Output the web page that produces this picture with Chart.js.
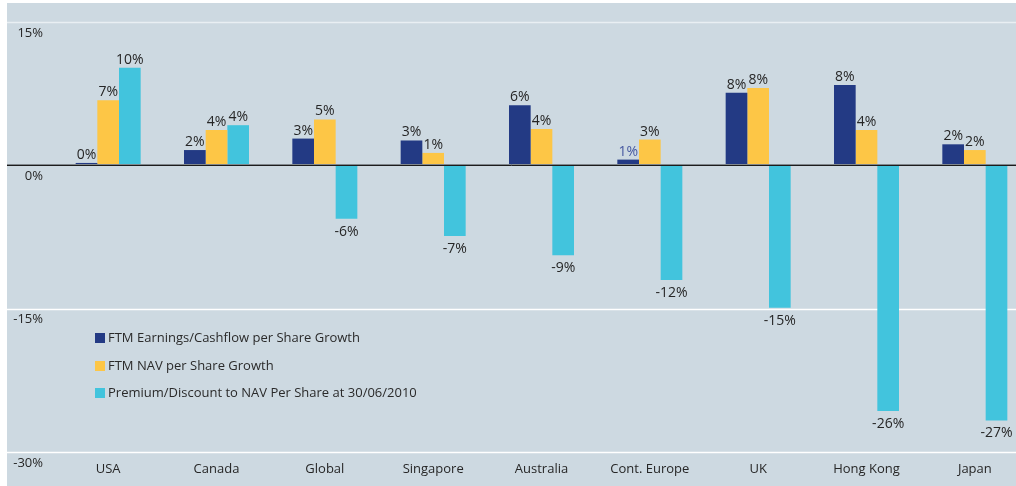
<!DOCTYPE html>
<html>
<head>
<meta charset="utf-8">
<script src="https://cdn.jsdelivr.net/npm/chart.js@4/dist/chart.umd.min.js"></script>
<style>
  html, body { margin:0; padding:0; background:#fff; overflow:hidden; width:1016px; height:486px; }
  #panel { position:absolute; left:7px; top:3px; width:1009px; height:483px; background:#cdd9e1; }
  #chart { position:absolute; left:0; top:0; }
  #legend { position:absolute; left:95px; top:327px; font:13px "Open Sans", sans-serif; color:#2a2a2a; }
  #legend div { height:27.7px; line-height:20px; white-space:nowrap; }
  #legend span { display:inline-block; width:10px; height:10px; margin-right:3px; vertical-align:-1px; }
</style>
</head>
<body>
<div id="panel"></div>
<canvas id="chart" width="1029" height="486"></canvas>
<div id="legend"></div>
<script>
const categories = ['USA', 'Canada', 'Global', 'Singapore', 'Australia', 'Cont. Europe', 'UK', 'Hong Kong', 'Japan'];
const earningsGrowth = [0.25, 1.6, 2.8, 2.6, 6.3, 0.6, 7.6, 8.4, 2.2];
const navGrowth = [6.8, 3.7, 4.8, 1.3, 3.8, 2.7, 8.1, 3.7, 1.6];
const premiumDiscount = [10.2, 4.2, -5.6, -7.4, -9.4, -12.0, -14.9, -25.7, -26.7];
const seriesNames = ['FTM Earnings/Cashflow per Share Growth', 'FTM NAV per Share Growth', 'Premium/Discount to NAV Per Share at 30/06/2010'];
const yMin = -30, yMax = 15, yStep = 15;

const FONT = '"Open Sans", sans-serif';

// full-width grid lines (they run under the tick labels, out to the panel edge)
const gridPlugin = {
    id: 'fullGrid',
    beforeDatasetsDraw(chart){
        const ctx = chart.ctx, y = chart.scales.y;
        ctx.save();
        y.ticks.forEach(t => {
            if (t.value === 0) return;
            const py = Math.round(y.getPixelForValue(t.value)) + 0.5;
            ctx.strokeStyle = t.value === yMax ? '#e9eff3' : '#ffffff';
            ctx.lineWidth = 1.6;
            ctx.beginPath(); ctx.moveTo(7, py); ctx.lineTo(1016, py); ctx.stroke();
        });
        ctx.restore();
    },
    afterDatasetsDraw(chart){
        const ctx = chart.ctx, y = chart.scales.y;
        const py = Math.round(y.getPixelForValue(0));
        ctx.save();
        ctx.lineWidth = 1;
        ctx.strokeStyle = '#80878c';
        ctx.beginPath(); ctx.moveTo(7, py - 0.5); ctx.lineTo(1016, py - 0.5); ctx.stroke();
        ctx.strokeStyle = '#1c1c1c';
        ctx.beginPath(); ctx.moveTo(7, py + 0.5); ctx.lineTo(1016, py + 0.5); ctx.stroke();
        ctx.restore();
    }
};

// value labels above / below each bar
const valueLabels = {
    id: 'valueLabels',
    afterDatasetsDraw(chart){
        const ctx = chart.ctx;
        ctx.save();
        ctx.font = '14px ' + FONT;
        ctx.textAlign = 'center';
        ctx.textBaseline = 'alphabetic';
        chart.data.datasets.forEach((ds, di) => {
            chart.getDatasetMeta(di).data.forEach((bar, i) => {
                const v = ds.data[i];
                const txt = Math.round(v) + '%';
                ctx.fillStyle = (ds.labelColors && ds.labelColors[i]) || '#262626';
                ctx.fillText(txt, bar.x, v >= 0 ? bar.y - 4 : bar.y + 17);
            });
        });
        ctx.restore();
    }
};

const chart = new Chart(document.getElementById('chart'), {
    type: 'bar',
    data: {
        labels: categories,
        datasets: [
            { label: seriesNames[0], data: earningsGrowth, backgroundColor: '#233a84',
              labelColors: [null, null, null, null, null, '#4658a0'] },
            { label: seriesNames[1], data: navGrowth, backgroundColor: '#fdc646' },
            { label: seriesNames[2], data: premiumDiscount, backgroundColor: '#42c4dd' }
        ]
    },
    options: {
        responsive: false,
        animation: false,
        layout: { padding: { top: 22, right: 0, left: 0, bottom: 0 } },
        datasets: { bar: { barPercentage: 1, categoryPercentage: 0.6 } },
        plugins: { legend: { display: false }, tooltip: { enabled: false } },
        scales: {
            x: {
                grid: { display: false, drawTicks: false },
                border: { display: false },
                ticks: { color: '#262626', font: { family: FONT, size: 13 }, padding: 9, maxRotation: 0 },
                afterFit(s){ s.height = 34; }
            },
            y: {
                min: yMin, max: yMax,
                grid: { display: false, drawTicks: false },
                border: { display: false },
                ticks: { stepSize: yStep, color: '#262626', font: { family: FONT, size: 13 }, padding: 11, labelOffset: 11,
                         callback: v => v + '%' },
                afterFit(s){ s.width = 54; }
            }
        }
    },
    plugins: [gridPlugin, valueLabels]
});

// html legend built from the datasets
document.getElementById('legend').innerHTML = chart.data.datasets.map(ds =>
    '<div><span style="background:' + ds.backgroundColor + '"></span>' + ds.label + '</div>').join('');
</script>
</body>
</html>
